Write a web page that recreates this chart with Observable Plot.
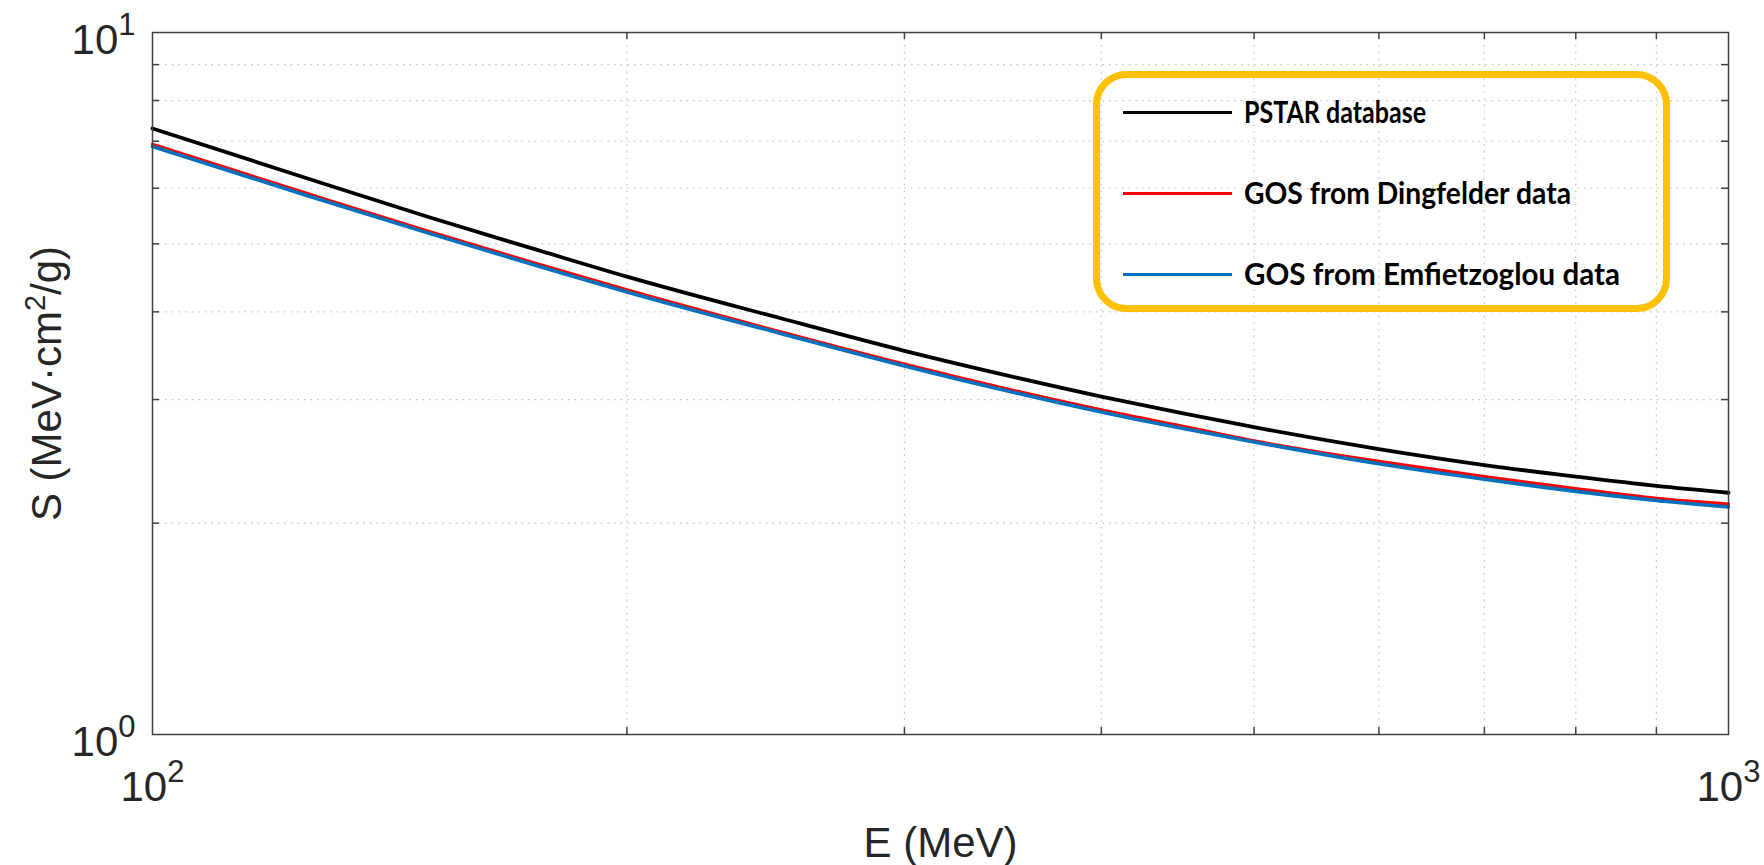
<!DOCTYPE html>
<html><head><meta charset="utf-8">
<script src="https://cdn.jsdelivr.net/npm/d3@7"></script>
<script src="https://cdn.jsdelivr.net/npm/@observablehq/plot@0.6"></script>
<style>body{margin:0;background:#fff;} #chart{width:1764px;height:865px;}</style>
</head><body><div id="chart"></div>
<script>
// ---- data ----
const energy       = [100, 125, 150, 175, 200, 250, 300, 350, 400, 450, 500, 600, 700, 800, 900, 1000];
const pstar        = [7.30, 6.21, 5.45, 4.91, 4.49, 3.92, 3.52, 3.24, 3.03, 2.87, 2.74, 2.55, 2.42, 2.33, 2.26, 2.21];
const dingfelder   = [6.93, 5.91, 5.20, 4.69, 4.30, 3.75, 3.37, 3.10, 2.90, 2.75, 2.62, 2.45, 2.33, 2.24, 2.17, 2.13];
const emfietzoglou = [6.88, 5.87, 5.17, 4.66, 4.27, 3.73, 3.35, 3.08, 2.88, 2.73, 2.61, 2.43, 2.31, 2.22, 2.155, 2.11];
const seriesNames  = ["PSTAR database", "GOS from Dingfelder data", "GOS from Emfietzoglou data"];
const seriesColors = ["#000000", "#FF0000", "#0072BD"];
const xMajorTicks  = [100, 1000];
const yMajorTicks  = [1, 10];
const xMinorTicks  = [200, 300, 400, 500, 600, 700, 800, 900];
const yMinorTicks  = [2, 3, 4, 5, 6, 7, 8, 9];
const xLabel = "E (MeV)";
const yLabel = "S (MeV·cm2/g)";

// ---- layout ----
const W = 1764, H = 865, mL = 152, mR = 36, mT = 32, mB = 131;
const fw = W - mL - mR, fh = H - mT - mB;
const axisColor = "#404040", textColor = "#262626";
const gridStyle = {stroke: "#c4c4c4", strokeWidth: 1.2, strokeDasharray: "1.6,5"};
const tickStyle = {stroke: axisColor, strokeWidth: 1.5};
const seriesData = [pstar, dingfelder, emfietzoglou];
const lineWidths = [3.8, 3.2, 3.6];

const chart = Plot.plot({
  width: W, height: H,
  marginLeft: mL, marginRight: mR, marginTop: mT, marginBottom: mB,
  style: {fontFamily: "'Liberation Sans', Arial, sans-serif", fontSize: "42px", color: textColor, background: "#fff", overflow: "visible"},
  x: {type: "log", domain: [100, 1000], ticks: xMajorTicks, tickFormat: d => String(Math.round(Math.log10(d))), tickSize: 0, tickPadding: 37, label: null},
  y: {type: "log", domain: [1, 10], ticks: yMajorTicks, tickFormat: d => String(Math.round(Math.log10(d))), tickSize: 0, tickPadding: 17, label: null},
  marks: [
    Plot.ruleX(xMinorTicks, {x: d => d, ...gridStyle}),
    Plot.ruleY(yMinorTicks, {y: d => d, ...gridStyle}),
    Plot.ruleY(yMinorTicks, {y: d => d, insetRight: fw - 7, ...tickStyle}),
    Plot.ruleY(yMinorTicks, {y: d => d, insetLeft: fw - 7, ...tickStyle}),
    Plot.ruleX(xMinorTicks, {x: d => d, insetTop: fh - 7, ...tickStyle}),
    Plot.ruleX(xMinorTicks, {x: d => d, insetBottom: fh - 7, ...tickStyle}),
    ...seriesData.map((vals, s) => Plot.line(energy, {
      x: d => d, y: (d, i) => vals[i], stroke: seriesColors[s], strokeWidth: lineWidths[s], curve: "monotone-x"
    })),
    Plot.frame({stroke: axisColor, strokeWidth: 1.5}),
    Plot.text([xLabel], {text: d => d, frameAnchor: "bottom", dy: 122, lineAnchor: "bottom", textAnchor: "middle", fontSize: 42, fill: textColor}),
    Plot.text([yLabel], {text: d => d, frameAnchor: "left", dx: -92, rotate: -90, lineAnchor: "bottom", textAnchor: "middle", fontSize: 42, fill: textColor})
  ]
});
document.getElementById("chart").appendChild(chart);

const svg = d3.select(chart);
// superscript tick labels 10^n
function toPower(sel, extra) {
  sel.each(function() {
    const e = this.textContent;
    const t = d3.select(this);
    t.text(null);
    if (extra) extra(t);
    t.append("tspan").text("10");
    t.append("tspan").attr("dy", -19).attr("font-size", 31).text(e);
  });
}
toPower(svg.selectAll('g[aria-label="y-axis tick label"] text'), t => t.attr("dy", 8));
toPower(svg.selectAll('g[aria-label="x-axis tick label"] text'));

// y label with superscript 2
svg.selectAll("text").filter(function() { return this.textContent === yLabel; }).each(function() {
  const t = d3.select(this);
  t.text(null);
  t.append("tspan").text("S (MeV·cm");
  t.append("tspan").attr("dy", -16).attr("font-size", 29).text("2");
  t.append("tspan").attr("dy", 16).text("/g)");
});

// legend (transparent rounded box)
const lg = svg.append("g").attr("class", "legend");
lg.append("rect").attr("x", 1096.5).attr("y", 74.5).attr("width", 570).attr("height", 234)
  .attr("rx", 30).attr("fill", "none").attr("stroke", "#FFC000").attr("stroke-width", 7);
const legendRowsY = [112.5, 193.5, 274.5];
const legendTextW = [182, 327, 376];
seriesNames.forEach((name, i) => {
  lg.append("line").attr("x1", 1123).attr("x2", 1232).attr("y1", legendRowsY[i]).attr("y2", legendRowsY[i])
    .attr("stroke", seriesColors[i]).attr("stroke-width", 3);
  lg.append("text").attr("x", 1244).attr("y", legendRowsY[i] + 10)
    .attr("text-anchor", "start")
    .attr("font-family", "Lato, 'Open Sans', sans-serif").attr("font-weight", "bold").attr("font-size", 30)
    .attr("fill", "#000").attr("textLength", legendTextW[i]).attr("lengthAdjust", "spacingAndGlyphs")
    .text(name);
});
</script>
</body></html>
